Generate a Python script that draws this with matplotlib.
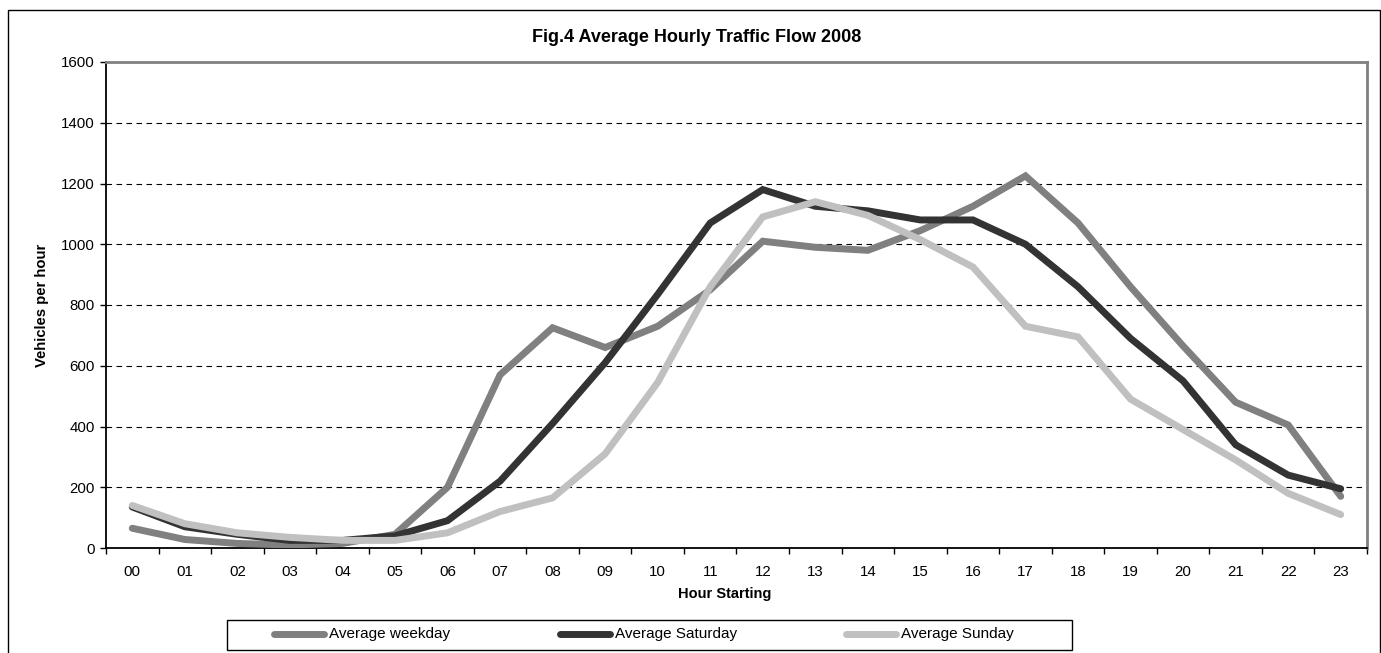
import matplotlib
matplotlib.use("Agg")
import matplotlib.pyplot as plt
from matplotlib.lines import Line2D
from matplotlib.patches import Rectangle

plt.rcParams['font.family'] = ['Liberation Sans', 'DejaVu Sans']

hours = ["00", "01", "02", "03", "04", "05", "06", "07", "08", "09", "10", "11",
         "12", "13", "14", "15", "16", "17", "18", "19", "20", "21", "22", "23"]
weekday = [65, 28, 15, 10, 15, 45, 200, 570, 725, 660, 730, 850,
           1010, 990, 980, 1045, 1125, 1225, 1070, 860, 665, 480, 405, 170]
saturday = [135, 70, 45, 25, 25, 40, 90, 220, 410, 610, 835, 1070,
            1180, 1125, 1110, 1080, 1080, 1000, 860, 690, 550, 340, 240, 195]
sunday = [140, 80, 50, 35, 25, 25, 50, 120, 165, 310, 545, 860,
          1090, 1140, 1095, 1015, 925, 730, 695, 490, 390, 290, 180, 110]
series_names = ["Average weekday", "Average Saturday", "Average Sunday"]
series_colors = ["#808080", "#333333", "#c0c0c0"]
yticks = [0, 200, 400, 600, 800, 1000, 1200, 1400, 1600]

W, H = 1381, 653
fig = plt.figure(figsize=(W / 100, H / 100), dpi=100)

# outer chart frame
fig.patches.append(Rectangle((8 / W, -0.02), (1379.5 - 8) / W, 1.02 - 10 / H,
                             transform=fig.transFigure, fill=False,
                             edgecolor='black', linewidth=1.0))

ax = fig.add_axes([106 / W, 1 - 548 / H, (1367 - 106) / W, (548 - 62) / H])
x = list(range(len(hours)))
for vals, name, col in zip([weekday, saturday, sunday], series_names, series_colors):
    ax.plot(x, vals, color=col, lw=5, solid_capstyle='round',
            solid_joinstyle='miter', label=name, zorder=3)

ax.set_xlim(-0.5, len(hours) - 0.5)
ax.set_ylim(0, 1600)
ax.set_yticks(yticks)
ax.set_yticklabels([str(v) for v in yticks], fontsize=10.8)
ax.set_xticks(x)
ax.set_xticklabels(hours, fontsize=10.8)
ax.set_xticks([i - 0.5 for i in range(len(hours) + 1)], minor=True)
ax.tick_params(axis='x', which='major', length=0, pad=12)
ax.tick_params(axis='x', which='minor', length=4, direction='out', width=1)
ax.tick_params(axis='y', which='major', length=4, direction='out', width=1, pad=4)

for v in yticks[1:-1]:
    ax.axhline(v, color='black', lw=0.8, ls=(0, (5, 4)), zorder=1)

ax.spines['left'].set_color('black')
ax.spines['bottom'].set_color('black')
ax.spines['left'].set_linewidth(1.3)
ax.spines['bottom'].set_linewidth(1.3)
ax.spines['top'].set_color('#808080')
ax.spines['right'].set_color('#808080')
ax.spines['top'].set_linewidth(2)
ax.spines['right'].set_linewidth(2)

fig.text(725 / W, 1 - 594 / H, "Hour Starting", ha='center', va='center',
         fontsize=10.5, fontweight='bold')
fig.text(42 / W, 1 - 305 / H, "Vehicles per hour", ha='center', va='center',
         rotation=90, fontsize=10.7, fontweight='bold')

fig.text(697 / W, 1 - 38 / H, "Fig.4 Average Hourly Traffic Flow 2008",
         ha='center', va='center', fontsize=13, fontweight='bold')

# legend box
lx0, lx1, ly0, ly1 = 227, 1072, 620, 650
fig.patches.append(Rectangle((lx0 / W, 1 - ly1 / H), (lx1 - lx0) / W, (ly1 - ly0) / H,
                             transform=fig.transFigure, fill=False,
                             edgecolor='black', linewidth=1.0))
hx = [274, 560, 846]
ly = 1 - 634 / H
for h0, name, col in zip(hx, series_names, series_colors):
    fig.add_artist(Line2D([h0 / W, (h0 + 50) / W], [ly, ly], transform=fig.transFigure,
                          color=col, lw=5, solid_capstyle='round'))
    fig.text((h0 + 55) / W, ly, name, ha='left', va='center', fontsize=11)

fig.savefig("out.png", dpi=100)
